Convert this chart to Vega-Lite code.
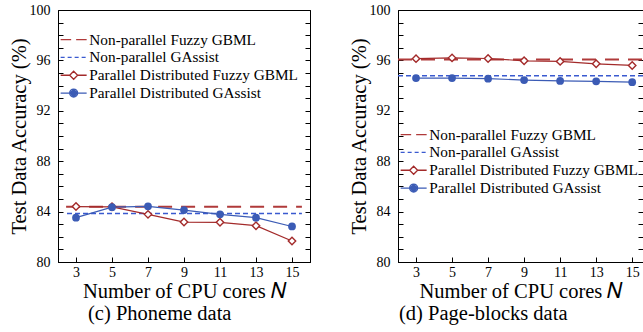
{
  "$schema": "https://vega.github.io/schema/vega-lite/v6.json",
  "padding": {"left": 8, "top": 2, "right": 0, "bottom": 0},
  "spacing": 37,
  "resolve": {"scale": {"color": "independent", "shape": "independent"}, "legend": {"color": "independent", "shape": "independent"}},
  "config": {
    "font": "Liberation Serif",
    "view": {"stroke": "black", "strokeWidth": 1},
    "axis": {"grid": false, "domainColor": "black", "domainWidth": 1, "tickColor": "black", "tickWidth": 1, "tickSize": -5, "labelFont": "Liberation Serif", "labelFontSize": 14, "labelColor": "black", "titleFont": "Liberation Serif", "titleFontSize": 20.5, "titleFontWeight": "normal", "titleColor": "black"},
    "axisX": {"labelPadding": 8, "titlePadding": 2},
    "axisY": {"labelPadding": 13, "titlePadding": 0},
    "legend": {"orient": "none", "title": null, "symbolSize": 100, "symbolStrokeWidth": 1.3, "labelOffset": 8, "labelFontSize": 15.3, "labelFont": "Liberation Serif", "labelColor": "black", "rowPadding": 1.8, "padding": 0, "labelLimit": 400},
    "title": {"font": "Liberation Serif", "fontSize": 20.5, "fontWeight": "normal", "color": "black"}
  },
  "hconcat": [
    {
      "width": 252,
      "height": 252,
      "title": {"text": "(c) Phoneme data", "orient": "bottom", "anchor": "start", "dx": 79, "offset": 2},
      "data": {"values": [
        {"series": "Non-parallel Fuzzy GBML", "n": 2.45, "acc": 84.38},
        {"series": "Non-parallel Fuzzy GBML", "n": 15.55, "acc": 84.38},
        {"series": "Non-parallel GAssist", "n": 2.5, "acc": 83.85},
        {"series": "Non-parallel GAssist", "n": 15.55, "acc": 83.85},
        {"series": "Parallel Distributed Fuzzy GBML", "n": 3, "acc": 84.4},
        {"series": "Parallel Distributed Fuzzy GBML", "n": 5, "acc": 84.38},
        {"series": "Parallel Distributed Fuzzy GBML", "n": 7, "acc": 83.78},
        {"series": "Parallel Distributed Fuzzy GBML", "n": 9, "acc": 83.17},
        {"series": "Parallel Distributed Fuzzy GBML", "n": 11, "acc": 83.15},
        {"series": "Parallel Distributed Fuzzy GBML", "n": 13, "acc": 82.88},
        {"series": "Parallel Distributed Fuzzy GBML", "n": 15, "acc": 81.67},
        {"series": "Parallel Distributed GAssist", "n": 3, "acc": 83.52},
        {"series": "Parallel Distributed GAssist", "n": 5, "acc": 84.35},
        {"series": "Parallel Distributed GAssist", "n": 7, "acc": 84.42},
        {"series": "Parallel Distributed GAssist", "n": 9, "acc": 84.12},
        {"series": "Parallel Distributed GAssist", "n": 11, "acc": 83.78},
        {"series": "Parallel Distributed GAssist", "n": 13, "acc": 83.52},
        {"series": "Parallel Distributed GAssist", "n": 15, "acc": 82.82}
      ]},
      "resolve": {"axis": {"y": "independent"}},
      "layer": [
        {
          "transform": [{"filter": {"field": "series", "equal": "Non-parallel Fuzzy GBML"}}],
          "mark": {"type": "line", "strokeWidth": 2, "strokeDash": [14, 9], "color": "#b03a3a", "clip": true},
          "encoding": {
            "x": {"field": "n", "type": "quantitative", "scale": {"domain": [2, 16], "nice": false, "zero": false}, "axis": {"values": [3, 5, 7, 9, 11, 13, 15], "title": "Number of CPU cores 𝑁"}},
            "y": {"field": "acc", "type": "quantitative", "scale": {"domain": [80, 100], "nice": false, "zero": false}, "axis": {"orient": "left", "values": [80,81,82,83,84,85,86,87,88,89,90,91,92,93,94,95,96,97,98,99,100], "labelExpr": "datum.value % 4 === 0 ? datum.label : ''", "labelOverlap": false, "title": "Test Data Accuracy (%)"}}
          }
        },
        {
          "transform": [{"filter": {"field": "series", "equal": "Non-parallel GAssist"}}],
          "mark": {"type": "line", "strokeWidth": 1.5, "strokeDash": [5, 3], "color": "#3a5ad0", "clip": true},
          "encoding": {
            "x": {"field": "n", "type": "quantitative", "axis": {"values": [3, 5, 7, 9, 11, 13, 15], "title": "Number of CPU cores 𝑁"}},
            "y": {"field": "acc", "type": "quantitative", "axis": {"orient": "right", "values": [80,81,82,83,84,85,86,87,88,89,90,91,92,93,94,95,96,97,98,99,100], "labels": false, "title": null}}
          }
        },
        {
          "transform": [{"filter": {"field": "series", "equal": "Parallel Distributed Fuzzy GBML"}}],
          "mark": {"type": "line", "strokeWidth": 1.2, "color": "#a32a2a"},
          "encoding": {
            "x": {"field": "n", "type": "quantitative", "axis": {"values": [3, 5, 7, 9, 11, 13, 15], "title": "Number of CPU cores 𝑁"}},
            "y": {"field": "acc", "type": "quantitative", "axis": null}
          }
        },
        {
          "transform": [{"filter": {"field": "series", "equal": "Parallel Distributed GAssist"}}],
          "mark": {"type": "line", "strokeWidth": 1.2, "color": "#3b5bb5"},
          "encoding": {
            "x": {"field": "n", "type": "quantitative", "axis": {"values": [3, 5, 7, 9, 11, 13, 15], "title": "Number of CPU cores 𝑁"}},
            "y": {"field": "acc", "type": "quantitative", "axis": null}
          }
        },
        {
          "transform": [{"filter": {"field": "series", "equal": "Parallel Distributed Fuzzy GBML"}}],
          "mark": {"type": "point", "shape": "diamond", "filled": true, "fill": "white", "stroke": "#a32a2a", "strokeWidth": 1.4, "size": 55, "opacity": 1},
          "encoding": {
            "x": {"field": "n", "type": "quantitative", "axis": {"values": [3, 5, 7, 9, 11, 13, 15], "title": "Number of CPU cores 𝑁"}},
            "y": {"field": "acc", "type": "quantitative", "axis": null}
          }
        },
        {
          "transform": [{"filter": {"field": "series", "equal": "Parallel Distributed GAssist"}}],
          "mark": {"type": "point", "shape": "circle", "filled": true, "color": "#3b5bb5", "size": 60, "opacity": 1},
          "encoding": {
            "x": {"field": "n", "type": "quantitative", "axis": {"values": [3, 5, 7, 9, 11, 13, 15], "title": "Number of CPU cores 𝑁"}},
            "y": {"field": "acc", "type": "quantitative", "axis": null}
          }
        },
        {
          "transform": [{"filter": "false"}],
          "mark": {"type": "point", "filled": false, "strokeWidth": 1.3, "opacity": 1},
          "encoding": {
            "color": {"field": "series", "type": "nominal", "scale": {"domain": ["Non-parallel Fuzzy GBML", "Non-parallel GAssist", "Parallel Distributed Fuzzy GBML", "Parallel Distributed GAssist"], "range": ["#b03a3a", "#3a5ad0", "#a32a2a", "#3b5bb5"]}, "legend": {"orient": "none", "legendX": 8, "legendY": 22, "labelFontSize": 15.3, "labelFont": "Liberation Serif", "labelOffset": 8, "rowPadding": 1.8}},
            "shape": {"field": "series", "type": "nominal", "scale": {"domain": ["Non-parallel Fuzzy GBML", "Non-parallel GAssist", "Parallel Distributed Fuzzy GBML", "Parallel Distributed GAssist"], "range": ["M-2.6,0L-0.5,0M0.5,0L2.6,0", "M-2.6,0L-1.8,0M-1.2,0L-0.4,0M0.2,0L1,0M1.6,0L2.4,0", "M-2.6,0L-0.8,0M0.8,0L2.6,0M0,-0.8L0.8,0L0,0.8L-0.8,0Z", "M-2.6,0L2.6,0M0.8,0A0.8,0.8,0,1,1,-0.8,0A0.8,0.8,0,1,1,0.8,0M0.55,0A0.55,0.55,0,1,1,-0.55,0A0.55,0.55,0,1,1,0.55,0M0.3,0A0.3,0.3,0,1,1,-0.3,0A0.3,0.3,0,1,1,0.3,0M0.1,0A0.1,0.1,0,1,1,-0.1,0A0.1,0.1,0,1,1,0.1,0"]}, "legend": {"orient": "none", "legendX": 8, "legendY": 22, "labelFontSize": 15.3, "labelFont": "Liberation Serif", "labelOffset": 8, "rowPadding": 1.8}}
          }
        }
      ]
    },
    {
      "width": 245,
      "height": 252,
      "title": {"text": "(d) Page-blocks data", "orient": "bottom", "anchor": "start", "dx": 50, "offset": 2},
      "data": {"values": [
        {"series": "Non-parallel Fuzzy GBML", "n": 2, "acc": 96.08},
        {"series": "Non-parallel Fuzzy GBML", "n": 15.6, "acc": 96.08},
        {"series": "Non-parallel GAssist", "n": 2, "acc": 94.78},
        {"series": "Non-parallel GAssist", "n": 15.6, "acc": 94.78},
        {"series": "Parallel Distributed Fuzzy GBML", "n": 3, "acc": 96.14},
        {"series": "Parallel Distributed Fuzzy GBML", "n": 5, "acc": 96.2},
        {"series": "Parallel Distributed Fuzzy GBML", "n": 7, "acc": 96.15},
        {"series": "Parallel Distributed Fuzzy GBML", "n": 9, "acc": 95.97},
        {"series": "Parallel Distributed Fuzzy GBML", "n": 11, "acc": 95.92},
        {"series": "Parallel Distributed Fuzzy GBML", "n": 13, "acc": 95.73},
        {"series": "Parallel Distributed Fuzzy GBML", "n": 15, "acc": 95.6},
        {"series": "Parallel Distributed GAssist", "n": 3, "acc": 94.6},
        {"series": "Parallel Distributed GAssist", "n": 5, "acc": 94.6},
        {"series": "Parallel Distributed GAssist", "n": 7, "acc": 94.55},
        {"series": "Parallel Distributed GAssist", "n": 9, "acc": 94.44},
        {"series": "Parallel Distributed GAssist", "n": 11, "acc": 94.37},
        {"series": "Parallel Distributed GAssist", "n": 13, "acc": 94.34},
        {"series": "Parallel Distributed GAssist", "n": 15, "acc": 94.27}
      ]},
      "resolve": {"axis": {"y": "independent"}},
      "layer": [
        {
          "transform": [{"filter": {"field": "series", "equal": "Non-parallel Fuzzy GBML"}}],
          "mark": {"type": "line", "strokeWidth": 2, "strokeDash": [14, 9], "color": "#b03a3a", "clip": true},
          "encoding": {
            "x": {"field": "n", "type": "quantitative", "scale": {"domain": [2, 15.6], "nice": false, "zero": false}, "axis": {"values": [3, 5, 7, 9, 11, 13, 15], "title": "Number of CPU cores 𝑁"}},
            "y": {"field": "acc", "type": "quantitative", "scale": {"domain": [80, 100], "nice": false, "zero": false}, "axis": {"orient": "left", "values": [80,81,82,83,84,85,86,87,88,89,90,91,92,93,94,95,96,97,98,99,100], "labelExpr": "datum.value % 4 === 0 ? datum.label : ''", "labelOverlap": false, "title": "Test Data Accuracy (%)"}}
          }
        },
        {
          "transform": [{"filter": {"field": "series", "equal": "Non-parallel GAssist"}}],
          "mark": {"type": "line", "strokeWidth": 1.5, "strokeDash": [5, 3], "color": "#3a5ad0", "clip": true},
          "encoding": {
            "x": {"field": "n", "type": "quantitative", "axis": {"values": [3, 5, 7, 9, 11, 13, 15], "title": "Number of CPU cores 𝑁"}},
            "y": {"field": "acc", "type": "quantitative", "axis": {"orient": "right", "values": [80,81,82,83,84,85,86,87,88,89,90,91,92,93,94,95,96,97,98,99,100], "labels": false, "title": null}}
          }
        },
        {
          "transform": [{"filter": {"field": "series", "equal": "Parallel Distributed Fuzzy GBML"}}],
          "mark": {"type": "line", "strokeWidth": 1.2, "color": "#a32a2a"},
          "encoding": {
            "x": {"field": "n", "type": "quantitative", "axis": {"values": [3, 5, 7, 9, 11, 13, 15], "title": "Number of CPU cores 𝑁"}},
            "y": {"field": "acc", "type": "quantitative", "axis": null}
          }
        },
        {
          "transform": [{"filter": {"field": "series", "equal": "Parallel Distributed GAssist"}}],
          "mark": {"type": "line", "strokeWidth": 1.2, "color": "#3b5bb5"},
          "encoding": {
            "x": {"field": "n", "type": "quantitative", "axis": {"values": [3, 5, 7, 9, 11, 13, 15], "title": "Number of CPU cores 𝑁"}},
            "y": {"field": "acc", "type": "quantitative", "axis": null}
          }
        },
        {
          "transform": [{"filter": {"field": "series", "equal": "Parallel Distributed Fuzzy GBML"}}],
          "mark": {"type": "point", "shape": "diamond", "filled": true, "fill": "white", "stroke": "#a32a2a", "strokeWidth": 1.4, "size": 55, "opacity": 1},
          "encoding": {
            "x": {"field": "n", "type": "quantitative", "axis": {"values": [3, 5, 7, 9, 11, 13, 15], "title": "Number of CPU cores 𝑁"}},
            "y": {"field": "acc", "type": "quantitative", "axis": null}
          }
        },
        {
          "transform": [{"filter": {"field": "series", "equal": "Parallel Distributed GAssist"}}],
          "mark": {"type": "point", "shape": "circle", "filled": true, "color": "#3b5bb5", "size": 60, "opacity": 1},
          "encoding": {
            "x": {"field": "n", "type": "quantitative", "axis": {"values": [3, 5, 7, 9, 11, 13, 15], "title": "Number of CPU cores 𝑁"}},
            "y": {"field": "acc", "type": "quantitative", "axis": null}
          }
        },
        {
          "transform": [{"filter": "false"}],
          "mark": {"type": "point", "filled": false, "strokeWidth": 1.3, "opacity": 1},
          "encoding": {
            "color": {"field": "series", "type": "nominal", "scale": {"domain": ["Non-parallel Fuzzy GBML", "Non-parallel GAssist", "Parallel Distributed Fuzzy GBML", "Parallel Distributed GAssist"], "range": ["#b03a3a", "#3a5ad0", "#a32a2a", "#3b5bb5"]}, "legend": {"orient": "none", "legendX": 8, "legendY": 117, "labelFontSize": 15.3, "labelFont": "Liberation Serif", "labelOffset": 8, "rowPadding": 1.8}},
            "shape": {"field": "series", "type": "nominal", "scale": {"domain": ["Non-parallel Fuzzy GBML", "Non-parallel GAssist", "Parallel Distributed Fuzzy GBML", "Parallel Distributed GAssist"], "range": ["M-2.6,0L-0.5,0M0.5,0L2.6,0", "M-2.6,0L-1.8,0M-1.2,0L-0.4,0M0.2,0L1,0M1.6,0L2.4,0", "M-2.6,0L-0.8,0M0.8,0L2.6,0M0,-0.8L0.8,0L0,0.8L-0.8,0Z", "M-2.6,0L2.6,0M0.8,0A0.8,0.8,0,1,1,-0.8,0A0.8,0.8,0,1,1,0.8,0M0.55,0A0.55,0.55,0,1,1,-0.55,0A0.55,0.55,0,1,1,0.55,0M0.3,0A0.3,0.3,0,1,1,-0.3,0A0.3,0.3,0,1,1,0.3,0M0.1,0A0.1,0.1,0,1,1,-0.1,0A0.1,0.1,0,1,1,0.1,0"]}, "legend": {"orient": "none", "legendX": 8, "legendY": 117, "labelFontSize": 15.3, "labelFont": "Liberation Serif", "labelOffset": 8, "rowPadding": 1.8}}
          }
        }
      ]
    }
  ]
}
